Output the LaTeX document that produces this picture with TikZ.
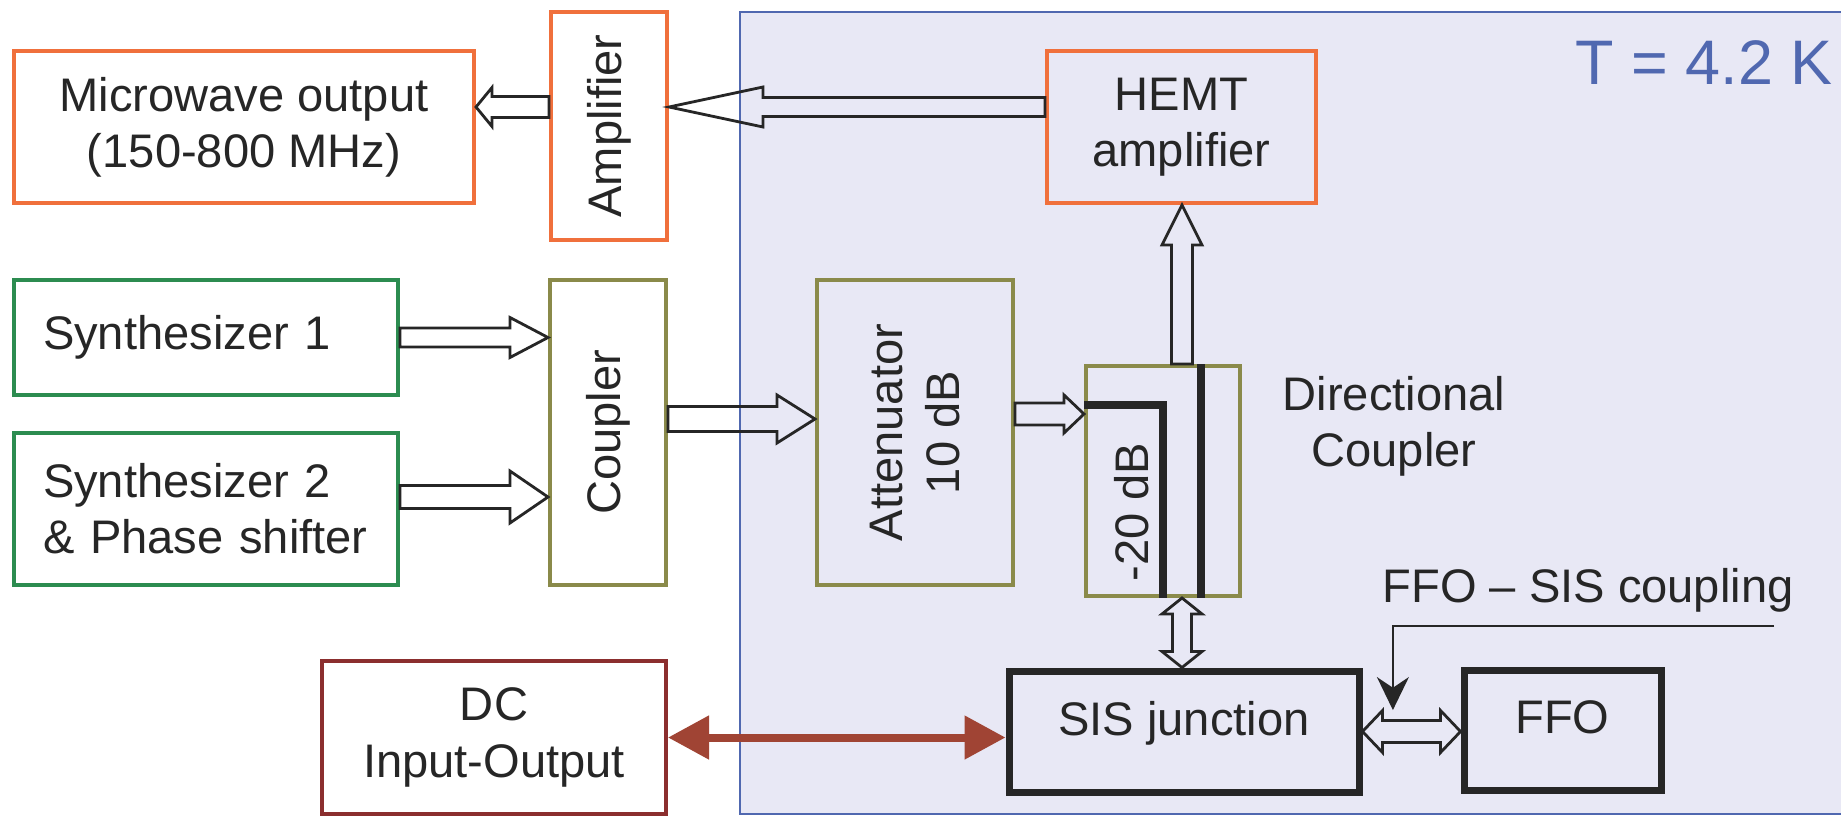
\documentclass[tikz,border=0pt]{standalone}
\usepackage{fontspec}
\setmainfont{Liberation Sans}
\usetikzlibrary{calc,arrows.meta}

\definecolor{cryofill}{RGB}{232,232,245}
\definecolor{cryoline}{RGB}{80,104,176}
\definecolor{orng}{RGB}{240,112,60}
\definecolor{grn}{RGB}{44,140,80}
\definecolor{olv}{RGB}{138,138,74}
\definecolor{dcred}{RGB}{139,46,46}
\definecolor{dcarrow}{RGB}{160,68,52}
\definecolor{ink}{RGB}{38,38,38}

\begin{document}
\begin{tikzpicture}[x=0.1mm,y=-0.1mm,
    every node/.style={font=\fontsize{13.4}{16}\selectfont, text=ink},
    box/.style 2 args={draw, line width=.4mm, minimum width=#1mm, minimum height=#2mm, inner sep=0pt, align=center},
    hollow/.style={draw=ink, line width=.28mm, line join=miter},
    blk/.style n args={3}{hollow, to path={
        ($(\tikztostart)!#1!90:(\tikztotarget)$)
        -- ($(\tikztotarget)!#3!(\tikztostart)!#1!-90:(\tikztostart)$)
        -- ($(\tikztotarget)!#3!(\tikztostart)!#2!-90:(\tikztostart)$)
        -- (\tikztotarget)
        -- ($(\tikztotarget)!#3!(\tikztostart)!#2!90:(\tikztostart)$)
        -- ($(\tikztotarget)!#3!(\tikztostart)!#1!90:(\tikztostart)$)
        -- ($(\tikztostart)!#1!-90:(\tikztotarget)$) -- cycle}},
    dblk/.style n args={3}{hollow, to path={
        ($(\tikztostart)!#3!(\tikztotarget)!#1!90:(\tikztotarget)$)
        -- ($(\tikztotarget)!#3!(\tikztostart)!#1!-90:(\tikztostart)$)
        -- ($(\tikztotarget)!#3!(\tikztostart)!#2!-90:(\tikztostart)$)
        -- (\tikztotarget)
        -- ($(\tikztotarget)!#3!(\tikztostart)!#2!90:(\tikztostart)$)
        -- ($(\tikztotarget)!#3!(\tikztostart)!#1!90:(\tikztostart)$)
        -- ($(\tikztostart)!#3!(\tikztotarget)!#1!-90:(\tikztotarget)$)
        -- ($(\tikztostart)!#3!(\tikztotarget)!#2!-90:(\tikztotarget)$)
        -- (\tikztostart)
        -- ($(\tikztostart)!#3!(\tikztotarget)!#2!90:(\tikztotarget)$) -- cycle}},
    coupline/.style={draw=ink, line width=.8mm}]

\path[use as bounding box, fill=white] (0,0) rectangle (1841,816);

% cold part
\draw[cryoline, fill=cryofill, line width=.2mm] (740,12) rectangle (1880,814);
\node[text=cryoline, font=\fontsize{17.9}{21}\selectfont] (temp) at (1704,63) {T = 4.2 K};

% room temperature side
\node[box={46}{15.2}, draw=orng, fill=white] (mw) at (244,127) {Microwave output\\(150-800 MHz)};
\node[box={22.8}{11.6}, draw=orng, fill=white, rotate=90] (amp) at (609,126) {Amplifier};
\node[box={38.4}{11.5}, draw=grn, fill=white, text width=32.6mm, align=left] (syn1) at (206,337.5) {Synthesizer 1};
\node[box={38.4}{15.2}, draw=grn, fill=white, text width=32.6mm, align=left] (syn2) at (206,509) {Synthesizer 2\\\& Phase shifter};
\node[box={30.5}{11.6}, draw=olv, fill=white, rotate=90] (cpl) at (608,432.5) {Coupler};
\node[box={34.4}{15.3}, draw=dcred, fill=white] (dcio) at (494,737.5) {DC\\Input-Output};

% 4.2 K side
\node[box={26.9}{15.2}, draw=orng] (hemt) at (1181.5,127) {HEMT\\amplifier};
\node[box={30.5}{19.6}, draw=olv, rotate=90] (att) at (915,432.5) {Attenuator\\10 dB};
\node[box={15.4}{23}, draw=olv] (dcp) at (1163,481) {};
\node[rotate=90] (db) at (1132,512) {-20 dB};
\node[align=center] (dclab) at (1394,426) {Directional\\Coupler};
\node[box={35}{12.1}, draw=ink, line width=.7mm, text height=3.4mm, text depth=2.7mm] (sis) at (1184,731.5) {SIS junction};
\node[box={19.7}{12}, draw=ink, line width=.7mm, text height=3.4mm, text depth=2.7mm] (ffo) at (1562.5,730) {FFO};
\node (cpllab) at (1588,590) {FFO -- SIS coupling};

% coupler lines
\draw[coupline] ([yshift=7.6mm]dcp.west) -| (dcp.south);
\draw[coupline] ([xshift=3.8mm]dcp.north) -- ([xshift=3.8mm]dcp.south);

% signal paths
\coordinate (a1) at ([yshift=2mm]hemt.west);
\draw[blk={.95mm}{2mm}{9.4mm}] (a1) to (amp.south |- a1);
\coordinate (a2) at (amp.north |- a1);
\draw[blk={1.05mm}{1.95mm}{1.6mm}] (a2) to (mw.east |- a2);
\draw[blk={.95mm}{2mm}{3.8mm}] (syn1.east) to (cpl.north |- syn1.east);
\coordinate (a3) at ([yshift=1.2mm]syn2.east);
\draw[blk={1.15mm}{2.6mm}{3.8mm}] (a3) to (cpl.north |- a3);
\coordinate (a4) at ([yshift=1.35mm]cpl.south);
\draw[blk={1.25mm}{2.4mm}{3.8mm}] (a4) to (att.north |- a4);
\coordinate (a5) at ([yshift=1.85mm]att.south);
\draw[blk={1.1mm}{1.9mm}{2mm}] (a5) to (dcp.west |- a5);
\coordinate (a6) at ([xshift=1.9mm]dcp.north);
\draw[blk={1.05mm}{2mm}{4mm}] (a6) to (hemt.south -| a6);
\coordinate (a7) at ([xshift=1.9mm]dcp.south);
\draw[dblk={.95mm}{2mm}{1.6mm}] (a7) to (sis.north -| a7);
\draw[dblk={1.1mm}{2.1mm}{2mm}] (sis.east) to (ffo.west |- sis.east);

% dc bias
\draw[dcarrow, line width=.8mm, {Triangle[length=4.1mm,width=4.2mm]}-{Triangle[length=4.1mm,width=4.2mm]}] (dcio.east) -- (sis.west |- dcio.east);

% pointer
\coordinate (ldr) at (1774,626);
\coordinate (ldtip) at ([yshift=2.1mm]$(sis.east)!.31!(ffo.west)$);
\draw[ink, line width=.15mm, -{Stealth[length=3.3mm,width=3.2mm]}] (ldr) -| (ldtip);

\end{tikzpicture}
\end{document}
